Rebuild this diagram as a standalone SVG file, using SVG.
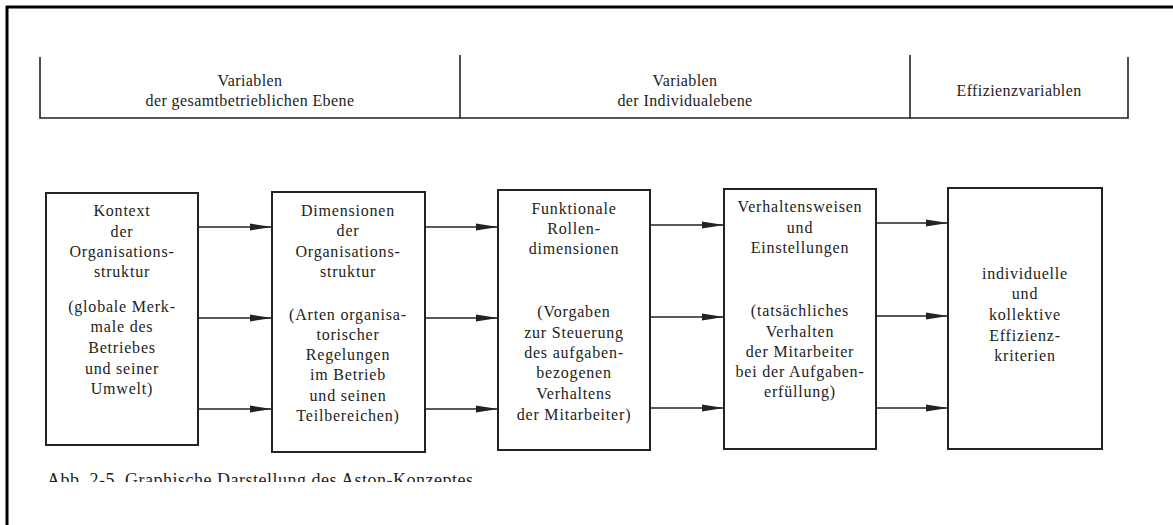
<svg xmlns="http://www.w3.org/2000/svg" width="1173" height="525" viewBox="0 0 1173 525">
<style>
.frame{stroke:#000;stroke-width:3;fill:none}
.hdr{stroke:#222;stroke-width:1.6;fill:none}
.box{stroke:#222;stroke-width:2;fill:#fff}
.t{font-family:"Liberation Serif",serif;font-size:16px;letter-spacing:0.8px;fill:#222;text-anchor:middle}
.h{font-family:"Liberation Serif",serif;font-size:16px;letter-spacing:0.4px;fill:#222;text-anchor:middle}
.cap{font-family:"Liberation Serif",serif;font-size:18px;letter-spacing:0.5px;fill:#222}
.arr{stroke:#222;stroke-width:1.6;fill:none;marker-end:url(#ah)}
</style>
<defs>
<marker id="ah" markerUnits="userSpaceOnUse" markerWidth="22" markerHeight="8" refX="22" refY="4" orient="auto">
<path d="M0,0.5 L22,4 L0,7.5 Z" fill="#222"/>
</marker>
<clipPath id="capclip"><rect x="0" y="440" width="1173" height="42"/></clipPath>
</defs>
<rect width="1173" height="525" fill="#fff"/>
<g id="frame">
<line class="frame" x1="6" y1="7" x2="1173" y2="7"/>
<line class="frame" x1="7" y1="6" x2="7" y2="525"/>
</g>
<g id="header">
<path class="hdr" d="M40,57 V118 H1128 V57 M460,55 V118 M910,55 V118"/>
<text class="h" x="250" y="86">Variablen</text>
<text class="h" x="250" y="106">der gesamtbetrieblichen Ebene</text>
<text class="h" x="685" y="86">Variablen</text>
<text class="h" x="685" y="106">der Individualebene</text>
<text class="h" x="1019" y="96">Effizienzvariablen</text>
</g>
<g id="connectors">
<line class="arr" x1="198" y1="227" x2="272" y2="227"/>
<line class="arr" x1="198" y1="318" x2="272" y2="318"/>
<line class="arr" x1="198" y1="409" x2="272" y2="409"/>
<line class="arr" x1="425" y1="227" x2="498" y2="227"/>
<line class="arr" x1="425" y1="318" x2="498" y2="318"/>
<line class="arr" x1="425" y1="409" x2="498" y2="409"/>
<line class="arr" x1="650" y1="225" x2="724" y2="225"/>
<line class="arr" x1="650" y1="317" x2="724" y2="317"/>
<line class="arr" x1="650" y1="408" x2="724" y2="408"/>
<line class="arr" x1="876" y1="223" x2="948" y2="223"/>
<line class="arr" x1="876" y1="316" x2="948" y2="316"/>
<line class="arr" x1="876" y1="408" x2="948" y2="408"/>
</g>
<g id="n1">
<rect class="box" x="46" y="193" width="152" height="252"/>
<text class="t" x="122" y="216">Kontext</text>
<text class="t" x="122" y="237">der</text>
<text class="t" x="122" y="257">Organisations-</text>
<text class="t" x="122" y="277">struktur</text>
<text class="t" x="122" y="312">(globale Merk-</text>
<text class="t" x="122" y="332">male des</text>
<text class="t" x="122" y="353">Betriebes</text>
<text class="t" x="122" y="374">und seiner</text>
<text class="t" x="122" y="394">Umwelt)</text>
</g>
<g id="n2">
<rect class="box" x="272" y="192" width="153" height="260"/>
<text class="t" x="348" y="216">Dimensionen</text>
<text class="t" x="348" y="236">der</text>
<text class="t" x="348" y="257">Organisations-</text>
<text class="t" x="348" y="277">struktur</text>
<text class="t" x="348" y="320">(Arten organisa-</text>
<text class="t" x="348" y="340">torischer</text>
<text class="t" x="348" y="360">Regelungen</text>
<text class="t" x="348" y="380">im Betrieb</text>
<text class="t" x="348" y="401">und seinen</text>
<text class="t" x="348" y="421">Teilbereichen)</text>
</g>
<g id="n3">
<rect class="box" x="498" y="190" width="152" height="260"/>
<text class="t" x="574" y="214">Funktionale</text>
<text class="t" x="574" y="234">Rollen-</text>
<text class="t" x="574" y="254">dimensionen</text>
<text class="t" x="574" y="317">(Vorgaben</text>
<text class="t" x="574" y="338">zur Steuerung</text>
<text class="t" x="574" y="358">des aufgaben-</text>
<text class="t" x="574" y="378">bezogenen</text>
<text class="t" x="574" y="399">Verhaltens</text>
<text class="t" x="574" y="420">der Mitarbeiter)</text>
</g>
<g id="n4">
<rect class="box" x="724" y="189" width="152" height="260"/>
<text class="t" x="800" y="212">Verhaltensweisen</text>
<text class="t" x="800" y="233">und</text>
<text class="t" x="800" y="253">Einstellungen</text>
<text class="t" x="800" y="316">(tatsächliches</text>
<text class="t" x="800" y="337">Verhalten</text>
<text class="t" x="800" y="357">der Mitarbeiter</text>
<text class="t" x="800" y="377">bei der Aufgaben-</text>
<text class="t" x="800" y="397">erfüllung)</text>
</g>
<g id="n5">
<rect class="box" x="948" y="188" width="154" height="261"/>
<text class="t" x="1025" y="279">individuelle</text>
<text class="t" x="1025" y="299">und</text>
<text class="t" x="1025" y="320">kollektive</text>
<text class="t" x="1025" y="341">Effizienz-</text>
<text class="t" x="1025" y="361">kriterien</text>
</g>
<g id="caption" clip-path="url(#capclip)">
<text class="cap" x="47" y="486">Abb. 2-5.  Graphische Darstellung des Aston-Konzeptes</text>
</g>
</svg>
